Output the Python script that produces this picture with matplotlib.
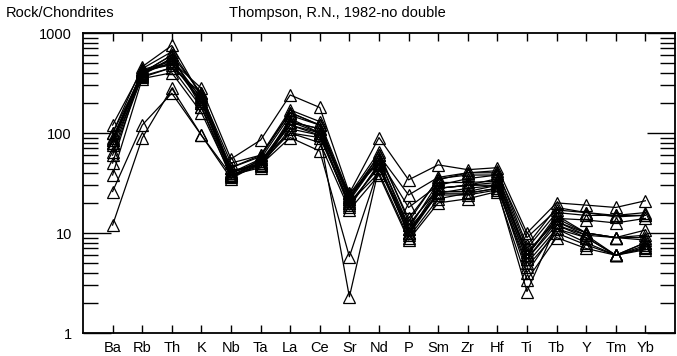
import numpy as np
import matplotlib
matplotlib.use('Agg')
import matplotlib.pyplot as plt
from matplotlib.ticker import FixedLocator, NullFormatter

plt.rcParams['font.family'] = ['Liberation Sans', 'DejaVu Sans']

elements = ['Ba', 'Rb', 'Th', 'K', 'Nb', 'Ta', 'La', 'Ce', 'Sr', 'Nd',
            'P', 'Sm', 'Zr', 'Hf', 'Ti', 'Tb', 'Y', 'Tm', 'Yb']

# rock / chondrite normalised values, one list per sample
s1 = [120, 430, 520, 280, 55, 85, 240, 180, 25, 90, 34, 48, 43, 45, 10, 20, 19, 18, 21]
s2 = [100, 460, 750, 230, 45, 60, 160, 120, 22, 60, 24, 36, 40, 40, 9, 17, 16, 15, 16]
s3 = [85, 400, 600, 250, 40, 50, 130, 110, 23, 55, 18, 30, 35, 38, 7, 16, 15, 15, 15]
s4 = [80, 380, 550, 220, 38, 50, 120, 100, 20, 45, 12, 28, 30, 35, 6, 14, 13.5, 12.6, 14]
s5 = [85, 420, 500, 200, 40, 55, 150, 120, 22, 55, 11, 32, 32, 33, 6.5, 13, 10, 9, 10.7]
s6 = [75, 360, 450, 250, 42, 48, 140, 100, 25, 50, 10, 25, 28, 30, 5.5, 12, 9.5, 9, 9]
s7 = [65, 400, 600, 180, 36, 55, 100, 90, 20, 40, 9, 22, 25, 28, 5, 11, 9, 6, 8]
s8 = [50, 440, 650, 240, 50, 60, 170, 130, 24, 65, 13, 35, 38, 38, 6, 15, 10, 9, 8.5]
s9 = [38, 350, 400, 160, 38, 45, 130, 100, 18, 50, 9.5, 25, 25, 28, 4.6, 10, 7.6, 6, 7.5]
s10 = [26, 120, 250, 95, 35, 50, 100, 80, 17, 38, 8.5, 20, 22, 26, 3.4, 9, 7, 6, 7]
s11 = [12, 89, 280, 95, 38, 48, 90, 66, 5.8, 45, 11, 24, 24, 27, 2.6, 12, 9, 6, 6.8]
s12 = [90, 400, 500, 210, 40, 52, 130, 110, 21, 55, 12, 28, 30, 32, 6, 14, 10, 9, 9.5]
s13 = [80, 420, 480, 230, 37, 47, 110, 95, 19, 48, 10, 26, 26, 30, 5.5, 13, 9.5, 6, 8]
s14 = [100, 390, 560, 200, 45, 58, 160, 120, 23, 60, 14, 34, 40, 42, 7.5, 18, 16, 14.5, 15]
s15 = [60, 370, 450, 180, 40, 50, 120, 95, 2.3, 45, 10, 28, 30, 30, 4, 11, 8, 6, 7.2]
samples = [s1, s2, s3, s4, s5, s6, s7, s8, s9, s10, s11, s12, s13, s14, s15]

fig = plt.figure(figsize=(6.77, 3.56), dpi=100)
ax = fig.add_axes([0.1226, 0.0646, 0.8744, 0.8427])

x = np.arange(1, len(elements) + 1)
for s in samples:
    ax.plot(x, s, color='black', lw=0.9, marker='^', ms=8,
            mfc='none', mec='black', mew=0.9)

ax.set_yscale('log')
ax.set_ylim(1, 1000)
ax.set_xlim(0, len(elements) + 1)

ax.set_xticks(x)
ax.set_xticklabels(elements, fontsize=10.5)
ax.tick_params(axis='x', direction='in', length=6, width=1, top=True, pad=6)

ax.yaxis.set_major_locator(FixedLocator([1, 10, 100, 1000]))
ax.set_yticklabels(['1', '10', '100', '1000'], fontsize=10.5)
minors = [m * d for d in (1, 10, 100) for m in range(2, 10)]
ax.yaxis.set_minor_locator(FixedLocator(minors))
ax.yaxis.set_minor_formatter(NullFormatter())
ax.tick_params(axis='y', which='major', direction='in', length=20, width=1,
               right=True, pad=8)
ax.tick_params(axis='y', which='minor', direction='in', length=11, width=1,
               right=True)

for sp in ax.spines.values():
    sp.set_linewidth(1.3)

fig.text(0.008, 0.952, 'Rock/Chondrites', fontsize=10.5)
fig.text(0.338, 0.952, 'Thompson, R.N., 1982-no double', fontsize=10.5)

fig.savefig('out.png', dpi=100)
